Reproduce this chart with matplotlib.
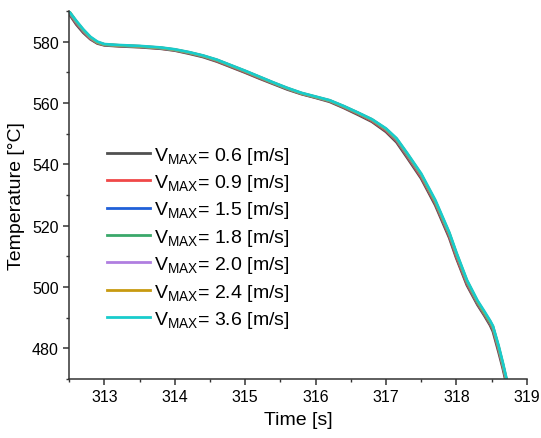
import matplotlib
matplotlib.use("Agg")
import matplotlib.pyplot as plt
from matplotlib.ticker import MultipleLocator

plt.rcParams['font.family'] = ['Liberation Sans', 'DejaVu Sans']
plt.rcParams['mathtext.fontset'] = 'custom'
plt.rcParams['mathtext.rm'] = 'Liberation Sans'
plt.rcParams['mathtext.it'] = 'Liberation Sans:italic'

time_s = [312.5, 312.6, 312.7, 312.8, 312.9, 313.0, 313.2, 313.5, 313.8, 314.0,
          314.2, 314.4, 314.6, 314.8, 315.0, 315.2, 315.4, 315.6, 315.8, 316.0,
          316.2, 316.4, 316.6, 316.8, 317.0, 317.15, 317.3, 317.5, 317.7, 317.9,
          318.0, 318.15, 318.3, 318.4, 318.48, 318.52, 318.6, 318.66, 318.72]

temp_v06 = [589.0, 585.6, 582.9, 580.8, 579.4, 578.8, 578.5, 578.2, 577.7, 577.1,
            576.1, 575.0, 573.5, 571.7, 569.9, 568.0, 566.2, 564.4, 562.9, 561.7,
            560.4, 558.4, 556.2, 553.9, 550.6, 547.2, 542.2, 535.4, 526.7, 516.0,
            509.4, 500.6, 494.2, 490.6, 487.5, 485.5, 478.8, 473.5, 467.5]
temp_v09 = [589.3, 586.0, 583.3, 581.0, 579.6, 578.9, 578.6, 578.3, 577.8, 577.2,
            576.3, 575.2, 573.7, 571.9, 570.1, 568.2, 566.4, 564.6, 563.0, 561.8,
            560.6, 558.6, 556.5, 554.2, 551.0, 547.7, 542.7, 535.9, 527.3, 516.6,
            509.9, 501.1, 494.6, 491.0, 488.0, 486.2, 479.6, 474.2, 468.2]
temp_v15 = [589.6, 586.3, 583.5, 581.2, 579.7, 579.0, 578.7, 578.4, 577.9, 577.3,
            576.4, 575.3, 573.9, 572.1, 570.3, 568.4, 566.5, 564.7, 563.1, 561.9,
            560.7, 558.8, 556.7, 554.5, 551.3, 548.0, 543.1, 536.4, 527.7, 517.1,
            510.6, 501.6, 494.9, 491.3, 488.3, 486.6, 480.1, 474.6, 468.6]
temp_v18 = [589.6, 586.4, 583.6, 581.3, 579.7, 579.0, 578.7, 578.4, 577.9, 577.3,
            576.4, 575.3, 573.9, 572.1, 570.3, 568.4, 566.5, 564.7, 563.1, 561.9,
            560.7, 558.8, 556.7, 554.5, 551.4, 548.1, 543.2, 536.5, 527.8, 517.2,
            510.7, 501.7, 495.0, 491.4, 488.4, 486.7, 480.2, 474.7, 468.7]
temp_v20 = [589.7, 586.5, 583.7, 581.3, 579.8, 579.1, 578.8, 578.5, 578.0, 577.4,
            576.5, 575.4, 574.0, 572.2, 570.4, 568.5, 566.6, 564.8, 563.2, 562.0,
            560.8, 558.9, 556.8, 554.6, 551.5, 548.2, 543.4, 536.6, 528.0, 517.4,
            510.9, 501.9, 495.3, 491.7, 488.8, 487.0, 480.4, 474.9, 468.9]
temp_v24 = [589.8, 586.6, 583.8, 581.4, 579.8, 579.1, 578.8, 578.5, 578.0, 577.4,
            576.5, 575.4, 574.0, 572.2, 570.4, 568.5, 566.6, 564.8, 563.2, 562.0,
            560.8, 558.9, 556.8, 554.6, 551.5, 548.3, 543.5, 536.7, 528.0, 517.5,
            511.0, 502.0, 495.3, 491.6, 488.7, 487.0, 480.5, 475.0, 469.0]
temp_v36 = [589.8, 586.8, 584.0, 581.6, 580.0, 579.2, 578.9, 578.6, 578.1, 577.5,
            576.6, 575.5, 574.1, 572.3, 570.5, 568.6, 566.7, 564.9, 563.3, 562.1,
            560.9, 559.0, 556.9, 554.7, 551.7, 548.5, 543.7, 537.0, 528.4, 517.8,
            511.3, 502.3, 495.6, 492.0, 489.0, 487.3, 480.9, 475.4, 469.4]

vmax_labels = ["0.6", "0.9", "1.5", "1.8", "2.0", "2.4", "3.6"]
series = [temp_v06, temp_v09, temp_v15, temp_v18, temp_v20, temp_v24, temp_v36]
colors = ["#505050", "#f04848", "#2060d8", "#3aa86a", "#b07ee0", "#c89a10", "#18cccc"]

fig = plt.figure(figsize=(5.41, 4.39), dpi=100)
ax = fig.add_axes([0.128, 0.1344, 0.8456, 0.8383])

for lab, temps, col in zip(vmax_labels, series, colors):
    ax.plot(time_s, temps, color=col, lw=2.0,
            label=r"V$_{\mathrm{MAX}}$= " + lab + " [m/s]")

ax.set_xlim(312.5, 319)
ax.set_ylim(470, 590)
ax.xaxis.set_major_locator(MultipleLocator(1))
ax.xaxis.set_minor_locator(MultipleLocator(0.5))
ax.yaxis.set_major_locator(MultipleLocator(20))
ax.yaxis.set_minor_locator(MultipleLocator(10))

for s in ["top", "right"]:
    ax.spines[s].set_visible(False)
for s in ["left", "bottom"]:
    ax.spines[s].set_linewidth(1.1)
    ax.spines[s].set_color("#333333")
ax.tick_params(which="major", direction="out", length=4.5, width=1.1,
               color="#333333", labelsize=11.5, pad=3)
ax.tick_params(which="minor", direction="out", length=2.5, width=1.0,
               color="#333333")

ax.set_xlabel("Time [s]", fontsize=14, labelpad=5)
ax.set_ylabel("Temperature [°C]", fontsize=14, labelpad=5)

leg = ax.legend(loc="center left", bbox_to_anchor=(0.083, 0.385), frameon=False,
                fontsize=14, handlelength=2.2, handletextpad=0.2,
                labelspacing=0.33, borderpad=0, borderaxespad=0)

fig.savefig("out.png", dpi=100)
